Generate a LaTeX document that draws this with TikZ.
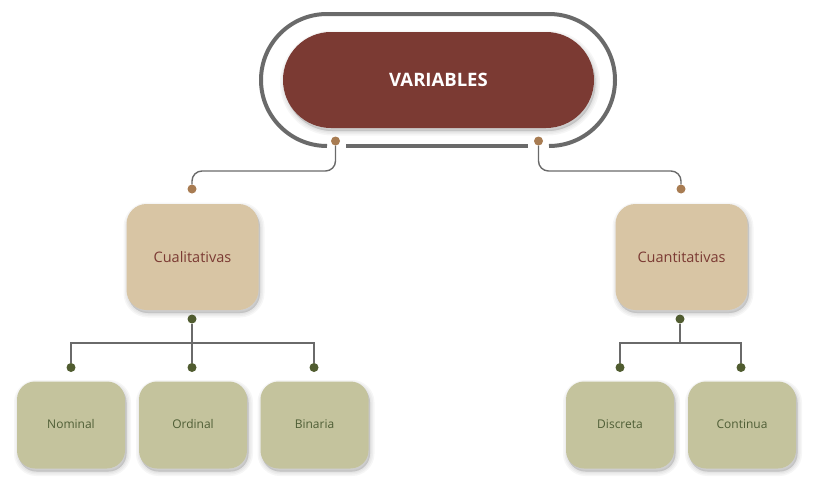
\documentclass[tikz,border=0pt]{standalone}
\usepackage{fontspec}
\setmainfont{Open Sans}
\definecolor{maroon}{HTML}{7B3A33}
\definecolor{tan}{HTML}{D8C5A4}
\definecolor{olive}{HTML}{C4C39D}
\definecolor{olivetxt}{HTML}{4F5E36}
\definecolor{greendot}{HTML}{505C30}
\definecolor{browndot}{HTML}{A87C52}
\definecolor{ringgray}{HTML}{6A6A6A}
\tikzset{
  shlayer/.style={preaction={draw=black, fill=black, draw opacity=0.035, fill opacity=0.035, line width=#1, transform canvas={shift={(1.5pt,-3pt)}}}},
  softshadow/.style={shlayer=9pt, shlayer=6pt, shlayer=3pt, shlayer=0.5pt},
  rootbox/.style={rectangle, rounded corners=48pt, fill=maroon, minimum width=311pt, minimum height=96pt, text=white, font=\fontsize{18.5}{20}\selectfont\bfseries, softshadow},
  midbox/.style={rectangle, rounded corners=20pt, fill=tan, minimum width=132pt, minimum height=106pt, text=maroon, font=\fontsize{14.5}{16}\selectfont, softshadow},
  leafbox/.style={rectangle, rounded corners=18pt, fill=olive, minimum width=108pt, minimum height=87pt, text=olivetxt, font=\fontsize{12}{13}\selectfont, softshadow},
  bdot/.style={circle, fill=browndot, inner sep=0pt, minimum size=9pt},
  gdot/.style={circle, fill=greendot, inner sep=0pt, minimum size=9pt},
  thinline/.style={draw=ringgray, line width=1.4pt},
  branch/.style={draw=ringgray, line width=2pt},
}
\begin{document}
\begin{tikzpicture}[x=1pt,y=-1pt]
\useasboundingbox (0,0) rectangle (822,498);
% ring
\draw[ringgray, line width=4pt] (327,146) arc[start angle=90,end angle=270,radius=66] -- (549,14) arc[start angle=270,end angle=450,radius=66];
\draw[ringgray, line width=4pt] (346,146) -- (528,146);
\node[rootbox] (root) at (438.5,80) {VARIABLES};
% mid boxes
\node[midbox] (cual) at (192.5,257) {Cualitativas};
\node[midbox] (cuan) at (681.5,257) {Cuantitativas};
% leaves
\node[leafbox] (nom) at (71,425) {\raisebox{1.5pt}{Nominal}};
\node[leafbox] (ord) at (193,425) {\raisebox{1.5pt}{Ordinal}};
\node[leafbox] (bin) at (314.5,425) {\raisebox{1.5pt}{Binaria}};
\node[leafbox] (dis) at (620,425) {\raisebox{1.5pt}{Discreta}};
\node[leafbox] (con) at (742,425) {\raisebox{1.5pt}{Continua}};
% root connectors
\node[bdot] (rl) at (335.5,141) {};
\node[bdot] (rr) at (538.5,141) {};
\node[bdot] (cl) at (192,189) {};
\node[bdot] (cr) at (681,189) {};
\draw[thinline, rounded corners=10pt] (rl) -- (rl |- 0,171) -- (cl |- 0,171) -- (cl);
\draw[thinline, rounded corners=10pt] (rr) -- (rr |- 0,171) -- (cr |- 0,171) -- (cr);
% left branch
\node[gdot] (g0) at (192,319) {};
\node[gdot] (g1) at (71,367.5) {};
\node[gdot] (g2) at (192,367.5) {};
\node[gdot] (g3) at (314,367.5) {};
\draw[branch] (g0) -- (g2);
\draw[branch] (g1) -- (g1 |- 0,343) -- (g3 |- 0,343) -- (g3);
% right branch
\node[gdot] (h0) at (680,319) {};
\node[gdot] (h1) at (620,367.5) {};
\node[gdot] (h2) at (741,367.5) {};
\draw[branch] (h0) -- (h0 |- 0,343);
\draw[branch] (h1) -- (h1 |- 0,343) -- (h2 |- 0,343) -- (h2);
\end{tikzpicture}
\end{document}
